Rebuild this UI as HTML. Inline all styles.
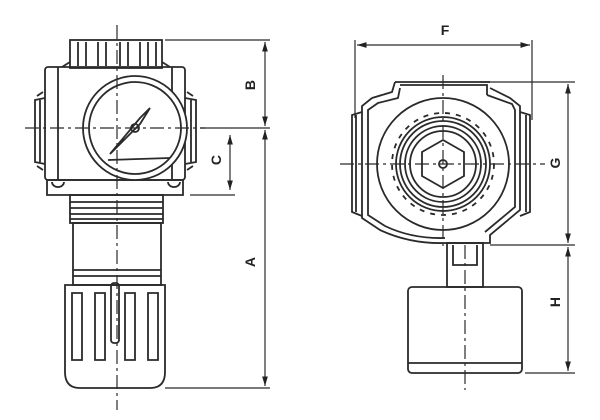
<!DOCTYPE html>
<html><head><style>html,body{margin:0;padding:0;background:#fff}svg{display:block}</style></head>
<body>
<svg width="600" height="420" viewBox="0 0 600 420" xmlns="http://www.w3.org/2000/svg">
<defs>
<marker id="ar" viewBox="0 0 10 10" refX="10" refY="5" markerWidth="8" markerHeight="8" orient="auto-start-reverse"><path d="M0,2 L10,5 L0,8 Z" fill="#222"/></marker>
</defs>
<g fill="none" stroke="#2a2a2a" stroke-width="1.8">
<!-- LEFT VIEW -->
<rect x="70" y="40" width="92" height="28"/>
<path d="M78 42V66 M86 42V66 M98 42V66 M106 42V66 M120 42V66 M128 42V66 M140 42V66 M148 42V66 M156 42V66"/>
<path d="M62 67 L70 62 M170 67 L162 62"/>
<rect x="45" y="67" width="140" height="113" rx="3"/>
<path d="M58 67V180 M172 67V180"/>
<path d="M47 180 H183 V195 H47 Z M52 182a6 5 0 0 0 12 0 M168 182a6 5 0 0 0 12 0"/>
<path d="M45 98 L35 100 V162 L45 164 M40 100V162 M37 96 l6 -4 M37 166 l6 4"/>
<path d="M185 98 L196 100 V162 L185 164 M191 100V162 M193 96 l-6 -4 M193 166 l-6 4"/>
<circle cx="135" cy="128" r="52" fill="#fff"/>
<circle cx="135" cy="128" r="46"/>
<path d="M108 160 L170 158 M110 154 L140 118 L150 108 L140 124 Z"/>
<circle cx="135" cy="128" r="4"/>
<rect x="70" y="195" width="93" height="28"/>
<path d="M70 202H163 M70 208H163 M70 214H163 M70 219H163"/>
<rect x="73" y="223" width="88" height="62"/>
<path d="M73 270H161 M73 276H161"/>
<path d="M65 285 H165 V372 Q165 388 150 388 H80 Q65 388 65 372 Z"/>
<path d="M72 293 V360 H82 V293 Z M95 293 V360 H105 V293 Z M125 293 V360 H135 V293 Z M148 293 V360 H158 V293 Z"/>
<rect x="111" y="283" width="8" height="60" rx="3"/>
<path d="M117 25 V410 M25 128 H205" stroke-dasharray="14 4 3 4" stroke-width="1.2"/>
<g stroke-width="1.2">
<path d="M165 40 H270 M200 128 H270 M190 195 H235 M165 388 H270"/>
<path d="M265 42 V126" marker-start="url(#ar)" marker-end="url(#ar)"/>
<path d="M265 130 V386" marker-start="url(#ar)" marker-end="url(#ar)"/>
<path d="M230 135 V190" marker-start="url(#ar)" marker-end="url(#ar)"/>
</g>

<!-- RIGHT VIEW -->
<path d="M395 82 H490 M400 85 H487 V95 M372 98 L362 106 V218 L380 230 Q410 244 445 243 H490 V235 L520 210 V106 L510 98 L490 88 M395 82 L392 92 L372 98"/>
<path d="M400 88 L398 98 L378 103 L368 110 V215 L385 226 Q412 239 445 238 M487 95 L512 104 L515 110 V207 L485 232"/>
<path d="M362 112 L352 115 V212 L362 216 M356 115V212 M520 112 L530 115 V212 L520 216 M526 115V212"/>
<circle cx="443" cy="164" r="66"/>
<circle cx="443" cy="164" r="47"/>
<circle cx="443" cy="164" r="51" stroke-dasharray="5 6"/>
<circle cx="443" cy="164" r="43"/>
<circle cx="443" cy="164" r="38"/>
<circle cx="443" cy="164" r="33"/>
<path d="M443 140 L464 152 V176 L443 188 L422 176 V152 Z"/>
<circle cx="443" cy="164" r="4"/>
<rect x="447" y="243" width="36" height="44"/>
<path d="M453 245 V265 H477 V245"/>
<rect x="408" y="287" width="114" height="86" rx="4"/>
<path d="M408 363 H522"/>
<path d="M443 75 V250 M340 164 H545 M465 245 V390" stroke-dasharray="14 4 3 4" stroke-width="1.2"/>
<g stroke-width="1.2">
<path d="M355 40 V118 M532 40 V120 M480 82 H575 M490 245 H575 M525 373 H575"/>
<path d="M357 45 H530" marker-start="url(#ar)" marker-end="url(#ar)"/>
<path d="M568 84 V243" marker-start="url(#ar)" marker-end="url(#ar)"/>
<path d="M568 247 V371" marker-start="url(#ar)" marker-end="url(#ar)"/>
</g>
</g>
<g font-family="Liberation Sans, sans-serif" font-weight="bold" font-size="14" fill="#222" text-anchor="middle">
<text transform="translate(250,85) rotate(-90)" dy="5">B</text>
<text transform="translate(216,160) rotate(-90)" dy="5">C</text>
<text transform="translate(250,262) rotate(-90)" dy="5">A</text>
<text x="445" y="35">F</text>
<text transform="translate(555,163) rotate(-90)" dy="5">G</text>
<text transform="translate(555,302) rotate(-90)" dy="5">H</text>
</g>
</svg>
</body></html>
